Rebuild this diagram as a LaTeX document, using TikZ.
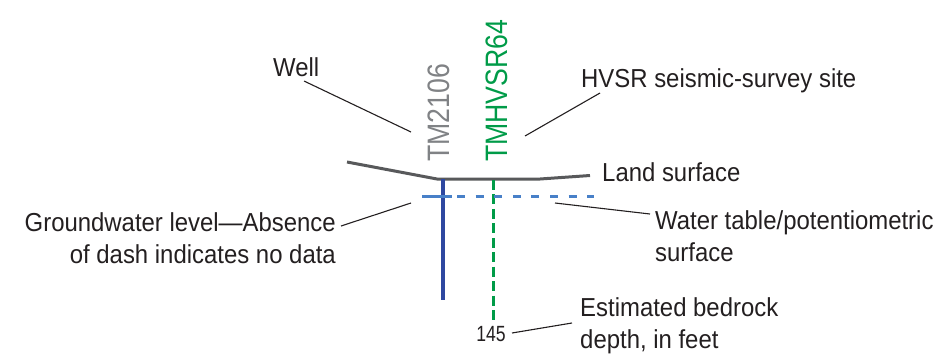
\documentclass[tikz,border=0pt]{standalone}
\usepackage{fontspec}
\setmainfont{Liberation Sans}[FakeStretch=0.92]
\newfontfamily\rotfont{Liberation Sans}[FakeStretch=0.86]
\newfontfamily\numfont{Liberation Sans}[FakeStretch=0.8]
\definecolor{txt}{RGB}{35,31,32}
\definecolor{tmgray}{RGB}{128,130,133}
\definecolor{hvgreen}{RGB}{0,155,72}
\definecolor{landgray}{RGB}{88,89,91}
\definecolor{wellblue}{RGB}{46,72,160}
\definecolor{wtblue}{RGB}{72,128,200}
\begin{document}
\begin{tikzpicture}[x=1pt,y=-1pt,
  lbl/.style={inner sep=0pt,text=txt,font=\fontsize{26}{32}\selectfont,align=left},
  lblr/.style={lbl,align=right},
  rot/.style={inner sep=0pt,rotate=90,anchor=west,font=\rotfont\fontsize{31}{31}\selectfont},
  leader/.style={draw=txt,line width=1.1pt},
  landline/.style={draw=landgray,line width=3pt,line join=round},
  wellline/.style={draw=wellblue,line width=3.2pt},
  wtline/.style={draw=wtblue,line width=3pt},
  hvline/.style={draw=hvgreen,line width=3pt}]
\useasboundingbox (0,0) rectangle (944,354);

% land surface
\coordinate (l1) at (347,162);
\coordinate (l2) at (437,179);
\coordinate (l3) at (540,179);
\coordinate (l4) at (590,175.5);
\draw[landline] (l1) -- (l2) -- (l3) -- (l4);

% well
\coordinate (wtop) at (443,179);
\coordinate (wbot) at (443,300);
\draw[wellline] (wtop) -- (wbot);

% HVSR
\coordinate (htop) at (493,180);
\coordinate (hbot) at (493,320);
\draw[hvline,dash pattern=on 10pt off 4.44pt] (htop) -- (hbot);

% groundwater level dash at well and water table
\coordinate (g1) at (422,196);
\coordinate (g2) at (452,196);
\coordinate (t1) at (457,196);
\coordinate (t2) at (594,196);
\draw[wtline] (g1) -- (g2);
\draw[wtline,dash pattern=on 8pt off 10.6pt] (t1) -- (t2);

% vertical labels
\node[rot,text=tmgray] (tm) at (439,162) {TM2106};
\node[rot,text=hvgreen] (tmh) at (497,162) {TMHVSR64};

% labels (base anchor of a two-line node is the last line's baseline)
\node[lbl,anchor=base west] (well) at (273,76) {Well};
\node[lbl,anchor=base west] (hvsr) at (581,87) {HVSR seismic-survey site};
\node[lbl,anchor=base west] (land) at (602,181) {Land surface};
\node[lbl,anchor=base west] (wt) at (655,261) {Water table/potentiometric\\surface};
\node[lblr,anchor=base east] (gw) at (336,263) {Groundwater level---Absence\\of dash indicates no data};
\node[lbl,anchor=base west] (est) at (580,348) {Estimated bedrock\\depth, in feet};
\node[inner sep=0pt,text=txt,font=\numfont\fontsize{22}{22}\selectfont,anchor=base] (depth) at (491,341) {145};

% leaders
\coordinate (a1) at (304,81);  \coordinate (a2) at (411,132);
\coordinate (b1) at (525,136); \coordinate (b2) at (600,93);
\coordinate (c1) at (555,203); \coordinate (c2) at (650,214);
\coordinate (d1) at (341,226); \coordinate (d2) at (411,203);
\coordinate (e1) at (512,333); \coordinate (e2) at (572,323);
\draw[leader] (a1) -- (a2);
\draw[leader] (b1) -- (b2);
\draw[leader] (c1) -- (c2);
\draw[leader] (d1) -- (d2);
\draw[leader] (e1) -- (e2);
\end{tikzpicture}
\end{document}
